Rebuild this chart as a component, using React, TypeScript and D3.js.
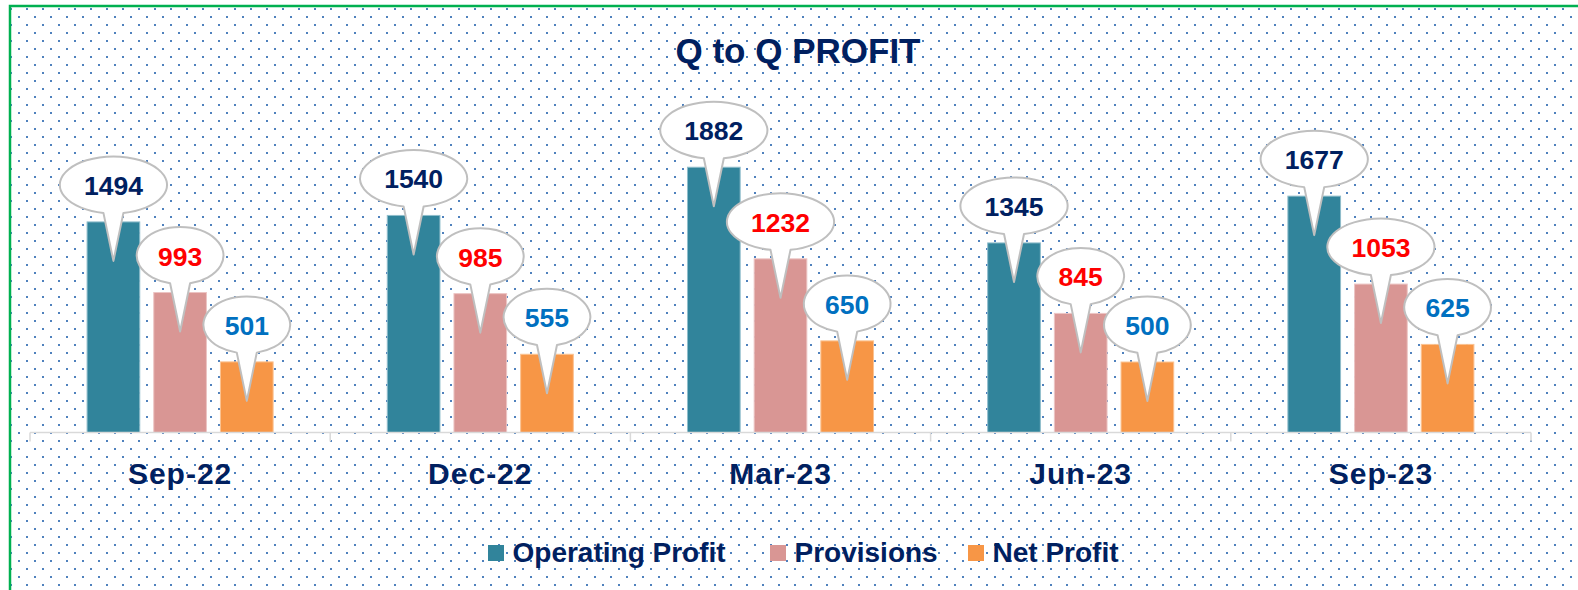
import React from "react";
import * as d3 from "d3";

const categories = ["Sep-22", "Dec-22", "Mar-23", "Jun-23", "Sep-23"];
const seriesNames = ["Operating Profit", "Provisions", "Net Profit"];
const operatingProfit = [1494, 1540, 1882, 1345, 1677];
const provisions = [993, 985, 1232, 845, 1053];
const netProfit = [501, 555, 650, 500, 625];
const seriesValues = [operatingProfit, provisions, netProfit];

const barColors = ["#31849b", "#d99694", "#f79646"];
const barEdges = ["#8fbdcb", "#ecc4c3", "#fbc291"];
const labelColors = ["#002060", "#ff0000", "#0070c0"];
const NAVY = "#002060";
const FONT = "'Liberation Sans', Arial, sans-serif";

const W = 1578;
const H = 590;
const baseY = 432.5;
const yMax = 2000;

export default function App() {
  const x0 = d3.scaleBand<string>().domain(categories).range([30, 1531]).paddingInner(0).paddingOuter(0);
  const x1 = d3
    .scaleBand<number>()
    .domain(d3.range(seriesNames.length))
    .range([0, x0.bandwidth()])
    .paddingInner(0.21)
    .paddingOuter(0.856);
  const y = d3.scaleLinear().domain([0, yMax]).range([baseY, baseY - yMax * 0.14095]);

  const ticks = categories.map((c) => x0(c)!).concat([x0.range()[1]]);

  const bubble = (cx: number, barTop: number, text: string) => {
    const cy = barTop - 37;
    const ry = 28.5;
    const rx = 12.8 + 10.2 * text.length;
    const hw = 10;
    const yb = cy + ry * Math.sqrt(1 - (hw / rx) * (hw / rx));
    const tipY = barTop + 39;
    const p = d3.path();
    p.moveTo(cx + hw, yb);
    // arc drawn as ellipse via SVG A command string
    const d = `M${cx + hw},${yb} A${rx},${ry} 0 1 0 ${cx - hw},${yb} L${cx},${tipY} Z`;
    return { d, cx, cy };
  };

  const legendX = [488, 770, 968];

  return (
    <svg
      width={W}
      height={H}
      style={{ position: "absolute", left: 0, top: 0, display: "block", background: "#ffffff" }}
    >
      <defs>
        <pattern id="dots" patternUnits="userSpaceOnUse" x={10} y={8} width={16} height={16}>
          <rect x={0} y={0} width={2} height={2} fill="#4f81bd" />
          <rect x={8} y={8} width={2} height={2} fill="#4f81bd" />
        </pattern>
      </defs>
      <rect x={10} y={6} width={W} height={H} fill="url(#dots)" />
      <path d={`M10,${H + 5} L10,6 L${W + 5},6`} fill="none" stroke="#00b050" strokeWidth={2.5} />

      <text
        x={798}
        y={63}
        textAnchor="middle"
        fontFamily={FONT}
        fontWeight="bold"
        fontSize={35}
        fill={NAVY}
      >
        Q to Q PROFIT
      </text>

      {/* bars */}
      {categories.map((c, ci) =>
        seriesValues.map((vals, si) => (
          <rect
            key={`b-${ci}-${si}`}
            x={x0(c)! + x1(si)!}
            y={y(vals[ci])}
            width={x1.bandwidth()}
            height={baseY - y(vals[ci])}
            fill={barColors[si]}
            stroke={barEdges[si]}
            strokeWidth={1}
          />
        ))
      )}

      {/* axis */}
      <line x1={ticks[0]} x2={ticks[ticks.length - 1]} y1={baseY} y2={baseY} stroke="#d9d9d9" strokeWidth={1.7} />
      {ticks.map((t, i) => (
        <line key={`t-${i}`} x1={t} x2={t} y1={baseY} y2={baseY + 9} stroke="#d9d9d9" strokeWidth={1.5} />
      ))}

      {categories.map((c) => (
        <text
          key={`c-${c}`}
          x={x0(c)! + x0.bandwidth() / 2}
          y={484}
          textAnchor="middle"
          fontFamily={FONT}
          fontWeight="bold"
          fontSize={30}
          letterSpacing={1}
          fill={NAVY}
        >
          {c}
        </text>
      ))}

      {/* callouts */}
      {seriesValues.map((vals, si) =>
        categories.map((c, ci) => {
          const cx = x0(c)! + x1(si)! + x1.bandwidth() / 2;
          const top = y(vals[ci]);
          const txt = String(vals[ci]);
          const b = bubble(cx, top, txt);
          return (
            <g key={`l-${si}-${ci}`}>
              <path d={b.d} fill="#ffffff" stroke="#bfbfbf" strokeWidth={2} strokeLinejoin="round" />
              <text
                x={b.cx}
                y={b.cy + 10}
                textAnchor="middle"
                fontFamily={FONT}
                fontWeight="bold"
                fontSize={26.5}
                fill={labelColors[si]}
              >
                {txt}
              </text>
            </g>
          );
        })
      )}

      {/* legend */}
      {seriesNames.map((n, i) => (
        <g key={`lg-${n}`}>
          <rect x={legendX[i]} y={545} width={16} height={16} fill={barColors[i]} />
          <text x={legendX[i] + 24.5} y={562} fontFamily={FONT} fontWeight="bold" fontSize={28} fill={NAVY}>
            {n}
          </text>
        </g>
      ))}
    </svg>
  );
}
